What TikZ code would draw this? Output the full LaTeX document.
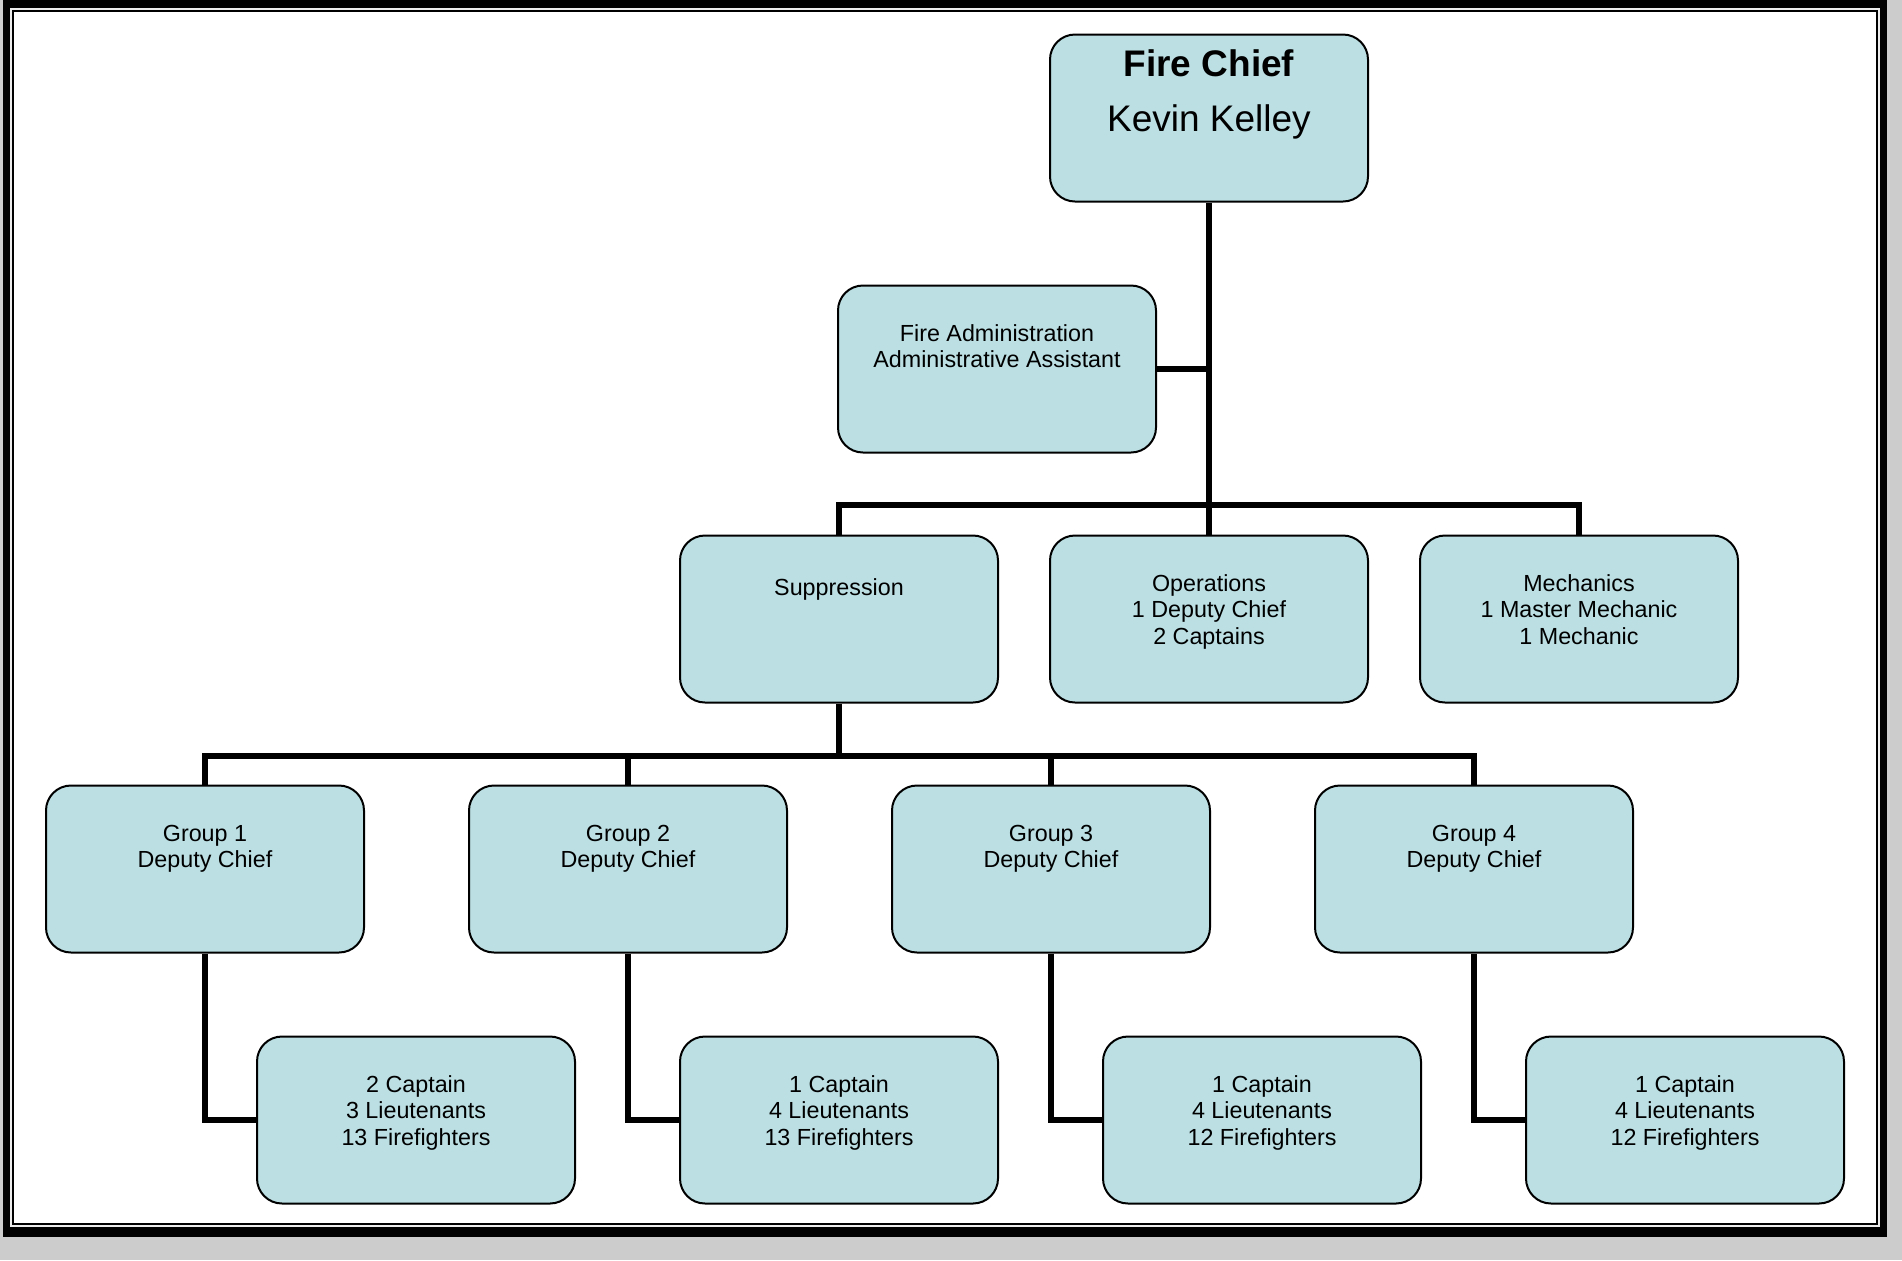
\documentclass[tikz,border=0pt]{standalone}
\usepackage{fontspec}
\setmainfont{Liberation Sans}
\usepackage{xcolor}
\definecolor{boxfill}{RGB}{187,223,227}
\newcommand{\unittext}[2][28pt]{\parbox[c][83.5pt][t]{159pt}{\centering\rule{0pt}{#1}#2}}

\begin{document}
\begin{tikzpicture}[x=0.5pt, y=-0.5pt,
        unit/.style={draw, line width=1pt, rounded corners=12.5pt, fill=boxfill, inner sep=0pt,
            font=\fontsize{11.65pt}{13.2pt}\selectfont},
        link/.style={line width=3.2pt}]
        \useasboundingbox (0,0) rectangle (1902,1260);
        % frame
        \fill[gray!40] (0,0) rectangle (1902,1260);
        \fill[black] (3,0) rectangle (1887,1237);
        \fill[gray!15] (10,8) rectangle (1880,1227);
        \fill[black] (12,10) rectangle (1878,1225);
        \fill[white] (14,12) rectangle (1876,1223);

        \node[unit, font=\fontsize{18.5pt}{27.8pt}\selectfont] at (1209, 118) (chief) {\unittext[20.8pt]{\textbf{Fire Chief}\\Kevin Kelley}};
        \node[unit] at (997, 369) (admin) {\unittext{Fire Administration\\Administrative Assistant}};

        \node[unit] at (839, 619) (sup) {\unittext[30pt]{Suppression}};
        \node[unit] at (1209, 619) (ops) {\unittext{Operations\\1 Deputy Chief\\2 Captains}};
        \node[unit] at (1579, 619) (mech) {\unittext{Mechanics\\1 Master Mechanic\\1 Mechanic}};

        \node[unit] at (205, 869) (g1) {\unittext{Group 1\\Deputy Chief}};
        \node[unit] at (628, 869) (g2) {\unittext{Group 2\\Deputy Chief}};
        \node[unit] at (1051, 869) (g3) {\unittext{Group 3\\Deputy Chief}};
        \node[unit] at (1474, 869) (g4) {\unittext{Group 4\\Deputy Chief}};

        \node[unit] at (416, 1120) (c1) {\unittext{2 Captain\\3 Lieutenants\\13 Firefighters}};
        \node[unit] at (839, 1120) (c2) {\unittext{1 Captain\\4 Lieutenants\\13 Firefighters}};
        \node[unit] at (1262, 1120) (c3) {\unittext{1 Captain\\4 Lieutenants\\12 Firefighters}};
        \node[unit] at (1685, 1120) (c4) {\unittext{1 Captain\\4 Lieutenants\\12 Firefighters}};

        \coordinate (bus2) at (1209, 505);
        \coordinate (bus3) at (839, 756);

        \draw[link] (chief.south) -- (ops.north)
            (admin.east) -- (admin.east -| chief.south)
            (sup.north) |- (bus2) -| (mech.north);
        \draw[link] (sup.south) -- (bus3)
            (g1.north) |- (bus3) -| (g4.north);
        \foreach \g in {g2, g3}
            \draw[link] (\g.north) -- (\g.north |- bus3);
        \foreach \i in {1, ..., 4}
            \draw[link] (g\i.south) |- (c\i.west);
    \end{tikzpicture}
\end{document}
